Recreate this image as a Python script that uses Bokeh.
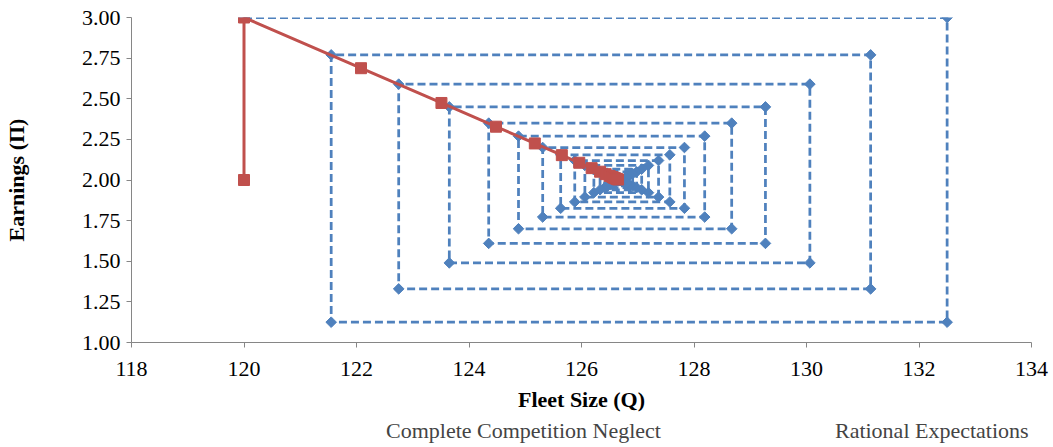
from bokeh.plotting import figure
from bokeh.layouts import column
from bokeh.models import (Range1d, FixedTicker, PrintfTickFormatter, Legend, LegendItem)
from bokeh.embed import file_html
from bokeh.resources import INLINE

# ---- data ----
ccn_left_q = [120.00, 121.55, 122.75, 123.65, 124.35, 124.88, 125.31, 125.63, 125.88,
              126.06, 126.22, 126.33, 126.41, 126.47, 126.52, 126.55, 126.58]
ccn_right_q = [132.50, 131.14, 130.06, 129.27, 128.67, 128.19, 127.83, 127.57, 127.37,
               127.19, 127.07, 126.98, 126.91, 126.86, 126.82, 126.79]
ccn_top_pi = [3.00, 2.77, 2.59, 2.45, 2.35, 2.27, 2.20, 2.155, 2.12, 2.09, 2.067, 2.05,
              2.039, 2.03, 2.022, 2.017]
ccn_bottom_pi = [1.125, 1.33, 1.49, 1.61, 1.70, 1.772, 1.826, 1.865, 1.895, 1.922, 1.94,
                 1.953, 1.964, 1.971, 1.977, 1.982]

re_q = [120.00, 120.00, 122.08, 123.51, 124.48, 125.17, 125.65, 125.96, 126.18, 126.33,
        126.43, 126.50, 126.55, 126.58, 126.61, 126.63, 126.65]
re_pi = [2.00, 3.00, 2.688, 2.474, 2.328, 2.225, 2.153, 2.106, 2.073, 2.051, 2.036,
         2.025, 2.018, 2.013, 2.009, 2.006, 2.003]

x_ticks = [118, 120, 122, 124, 126, 128, 130, 132, 134]
y_ticks = [1.00, 1.25, 1.50, 1.75, 2.00, 2.25, 2.50, 2.75, 3.00]

series_names = ["Complete Competition Neglect", "Rational Expectations"]
x_title = "Fleet Size (Q)"
y_title = "Earnings (\u03a0)"

ccn_q, ccn_pi = [], []
for k in range(len(ccn_right_q)):
    ccn_q += [ccn_left_q[k], ccn_right_q[k], ccn_right_q[k], ccn_left_q[k + 1]]
    ccn_pi += [ccn_top_pi[k], ccn_top_pi[k], ccn_bottom_pi[k], ccn_bottom_pi[k]]

FONT = "Liberation Serif"
BLUE = "#4F81BD"
RED = "#C0504D"
AXIS = "#868686"

# ---- main chart ----
p = figure(width=1053, height=414, output_backend="svg", toolbar_location=None,
           x_range=Range1d(118, 134), y_range=Range1d(1, 3),
           min_border_left=131, min_border_right=22, min_border_top=17, min_border_bottom=0)
p.outline_line_color = None
p.xgrid.visible = False
p.ygrid.visible = False

p.line(ccn_q, ccn_pi, line_color=BLUE, line_width=2.75, line_dash="8 4")
p.scatter(ccn_q, ccn_pi, marker="square", angle=0.785398, size=7.5,
          fill_color=BLUE, line_color=BLUE)
p.line(re_q, re_pi, line_color=RED, line_width=3)
p.scatter(re_q, re_pi, marker="square", size=11, fill_color=RED, line_color=RED)

for ax in (p.xaxis[0], p.yaxis[0]):
    ax.axis_line_color = AXIS
    ax.major_tick_line_color = AXIS
    ax.minor_tick_line_color = None
    ax.major_tick_out = 5
    ax.major_tick_in = 0
    ax.major_label_text_font = FONT
    ax.major_label_text_font_size = "22px"
    ax.major_label_text_color = "black"
    ax.axis_label_text_font = FONT
    ax.axis_label_text_font_style = "bold"
    ax.axis_label_text_font_size = "22px"
    ax.axis_label_text_color = "black"

p.xaxis.ticker = FixedTicker(ticks=x_ticks)
p.yaxis.ticker = FixedTicker(ticks=y_ticks)
p.yaxis.formatter = PrintfTickFormatter(format="%.2f")
p.xaxis.major_label_standoff = 14
p.yaxis.major_label_standoff = 6

p.yaxis.axis_label = y_title
p.yaxis.axis_label_standoff = 50
p.xaxis.axis_label = x_title
p.xaxis.axis_label_standoff = 8

# ---- legend strip below the chart ----
lf = figure(width=1053, height=33, output_backend="svg", toolbar_location=None,
            x_axis_type=None, y_axis_type=None,
            x_range=Range1d(0, 1), y_range=Range1d(0, 1), min_border=0)
lf.outline_line_color = None

lbl = lf.line([], [], line_color=BLUE, line_width=2.75, line_dash="8 4")
lbp = lf.scatter([], [], marker="square", angle=0.785398, size=7.5,
                 fill_color=BLUE, line_color=BLUE)
lrl = lf.line([], [], line_color=RED, line_width=3)
lrp = lf.scatter([], [], marker="square", size=11, fill_color=RED, line_color=RED)

legend = Legend(items=[LegendItem(label=series_names[0], renderers=[lbl, lbp]),
                       LegendItem(label=series_names[1], renderers=[lrl, lrp])],
                orientation="horizontal", location=(200, 3), spacing=119,
                glyph_width=50, label_standoff=5, padding=0, margin=0,
                border_line_alpha=0, background_fill_alpha=0,
                label_text_font=FONT, label_text_font_size="22px")
lf.add_layout(legend)

layout = column(p, lf, spacing=0)
open("out.html", "w").write(file_html(layout, INLINE))
